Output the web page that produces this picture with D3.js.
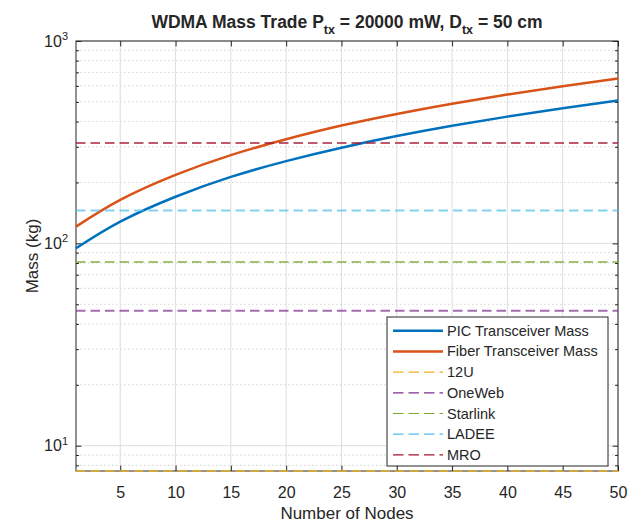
<!DOCTYPE html>
<html>
<head>
<meta charset="utf-8">
<script src="https://cdn.jsdelivr.net/npm/d3@7"></script>
<style>
  body { margin: 0; background: #fff; }
  text { font-family: "Liberation Sans", Arial, Helvetica, sans-serif; fill: #262626; }
</style>
</head>
<body>
<div id="chart"></div>
<script>
// values
const nodes = [1, 5, 10, 15, 20, 25, 30, 35, 40, 45, 50];
const picMass = [94.5, 128, 170, 213, 255, 297, 339, 381, 423, 465, 508];
const fiberMass = [121, 164, 218, 273, 327, 382, 436, 490, 544, 598, 652];

const refNames = ['12U', 'OneWeb', 'Starlink', 'LADEE', 'MRO'];
const refMass = [7.5, 46.5, 81, 145.5, 313];
const refColors = ['#EDB120', '#7E2F8E', '#77AC30', '#4DBEEE', '#A2142F'];

const xTicks = [5, 10, 15, 20, 25, 30, 35, 40, 45, 50];
const yTicks = [10, 100, 1000];
const yMinor = [8, 9, 20, 30, 40, 50, 60, 70, 80, 90, 200, 300, 400, 500, 600, 700, 800, 900];

(function(){
    const margin = {
        top: 41,
        left: 76,
        bottom: 54,
        right: 14,
    }

    const width = 632 - margin.left - margin.right;
    const height = 525 - margin.top - margin.bottom;

    const svg = d3.select("#chart")
        .append('svg')
            .attr('width', width + margin.left + margin.right)
            .attr('height', height + margin.top + margin.bottom)
        .append('g')
            .attr('transform', `translate(${margin.left}, ${margin.top})`)

    const xScale = d3.scaleLinear()
        .domain([1, 50])
        .range([0, width]);

    const yScale = d3.scaleLog()
        .domain([7.5, 1000])
        .range([height, 0]);

    // grid
    svg.append('g')
        .selectAll('line')
        .data(yMinor)
        .join('line')
            .attr('x1', 0)
            .attr('x2', width)
            .attr('y1', d => yScale(d))
            .attr('y2', d => yScale(d))
            .style('stroke', '#d2d2d2')
            .style('stroke-width', 1)
            .style('stroke-dasharray', '1.5,2.5');

    svg.append('g')
        .selectAll('line')
        .data(yTicks)
        .join('line')
            .attr('x1', 0)
            .attr('x2', width)
            .attr('y1', d => yScale(d))
            .attr('y2', d => yScale(d))
            .style('stroke', '#dedede');

    svg.append('g')
        .selectAll('line')
        .data(xTicks)
        .join('line')
            .attr('x1', d => xScale(d))
            .attr('x2', d => xScale(d))
            .attr('y1', 0)
            .attr('y2', height)
            .style('stroke', '#dedede');

    // axes, ticks pointing inward
    const xAxis = d3.axisBottom(xScale)
        .tickValues(xTicks)
        .tickSizeInner(-5.4)
        .tickSizeOuter(0)
        .tickPadding(16);

    svg.append('g')
            .attr('transform', `translate(0, ${height})`)
        .call(xAxis);

    svg.append('g')
        .call(d3.axisTop(xScale).tickValues(xTicks).tickSizeInner(-5.4).tickSizeOuter(0).tickFormat(''));

    const yAxis = d3.axisLeft(yScale)
        .tickValues(yTicks)
        .tickSizeInner(-5.4)
        .tickSizeOuter(0)
        .tickPadding(8);

    const yg = svg.append('g').call(yAxis);
    yg.selectAll('.tick text').each(function(d) {
        const t = d3.select(this);
        t.text('');
        t.append('tspan').text('10');
        t.append('tspan')
            .attr('dy', '-0.6em')
            .style('font-size', '11px')
            .text(Math.round(Math.log10(d)));
    });

    svg.append('g')
        .call(d3.axisLeft(yScale).tickValues(yMinor).tickSizeInner(-3).tickSizeOuter(0).tickFormat(''));

    svg.append('g')
            .attr('transform', `translate(${width}, 0)`)
        .call(d3.axisRight(yScale).tickValues(yTicks).tickSizeInner(-5.4).tickSizeOuter(0).tickFormat(''));

    svg.append('g')
            .attr('transform', `translate(${width}, 0)`)
        .call(d3.axisRight(yScale).tickValues(yMinor).tickSizeInner(-3).tickSizeOuter(0).tickFormat(''));

    svg.selectAll('.domain').remove();
    svg.selectAll('.tick line').style('stroke', '#262626');
    svg.selectAll('.tick text').style('font-size', '16px').style('fill', '#262626');

    svg.append('rect')
        .attr('width', width)
        .attr('height', height)
        .style('fill', 'none')
        .style('stroke', '#262626')
        .style('stroke-width', 1);

    // curves
    const line = d3.line()
        .x(d => xScale(d[0]))
        .y(d => yScale(d[1]))
        .curve(d3.curveNatural);

    const series = [
        { name: 'PIC Transceiver Mass', color: '#0072BD', values: d3.zip(nodes, picMass) },
        { name: 'Fiber Transceiver Mass', color: '#D95319', values: d3.zip(nodes, fiberMass) },
    ];

    series.forEach(s => {
        svg.append('path')
            .datum(s.values)
            .attr('d', line)
            .style('fill', 'none')
            .style('stroke', s.color)
            .style('stroke-width', 2.5);
    });

    // reference masses
    svg.append('g')
        .selectAll('line')
        .data(refMass)
        .join('line')
            .attr('x1', 0)
            .attr('x2', width)
            .attr('y1', d => yScale(d))
            .attr('y2', d => yScale(d))
            .style('stroke', (d, i) => refColors[i])
            .style('stroke-opacity', 0.7)
            .style('stroke-width', 2)
            .style('stroke-dasharray', '9.5,5');

    // labels
    svg.append('text')
        .attr('x', width / 2)
        .attr('y', height + 48)
        .attr('text-anchor', 'middle')
        .style('font-size', '17px')
        .text('Number of Nodes');

    svg.append('text')
        .attr('transform', `translate(${-38}, ${height / 2}) rotate(-90)`)
        .attr('text-anchor', 'middle')
        .style('font-size', '17px')
        .text('Mass (kg)');

    const title = svg.append('text')
        .attr('x', width / 2)
        .attr('y', -13)
        .attr('text-anchor', 'middle')
        .style('font-size', '17.5px')
        .style('font-weight', 'bold');
    title.append('tspan').text('WDMA Mass Trade P');
    title.append('tspan').attr('dy', 6).style('font-size', '12.5px').text('tx');
    title.append('tspan').attr('dy', -6).text(' = 20000 mW, D');
    title.append('tspan').attr('dy', 6).style('font-size', '12.5px').text('tx');
    title.append('tspan').attr('dy', -6).text(' = 50 cm');

    // legend
    const legendItems = series.map(s => ({ name: s.name, color: s.color, dashed: false }))
        .concat(refNames.map((n, i) => ({ name: n, color: refColors[i], dashed: true })));

    const legend = svg.append('g')
        .attr('transform', `translate(${311}, ${276})`);

    legend.append('rect')
        .attr('width', 221)
        .attr('height', 149)
        .style('fill', '#fff')
        .style('stroke', '#262626')
        .style('stroke-width', 1);

    const rows = legend.selectAll('g.row')
        .data(legendItems)
        .join('g')
            .attr('transform', (d, i) => `translate(0, ${13.7 + i * 20.7})`);

    rows.append('line')
        .attr('x1', 6)
        .attr('x2', 56)
        .style('stroke', d => d.color)
        .style('stroke-width', d => d.dashed ? 1.2 : 2.5)
        .style('stroke-dasharray', d => d.dashed ? '10.5,5' : null);

    rows.append('text')
        .attr('x', 60)
        .attr('dy', '0.35em')
        .style('font-size', '14.5px')
        .text(d => d.name);
}())
</script>
</body>
</html>
